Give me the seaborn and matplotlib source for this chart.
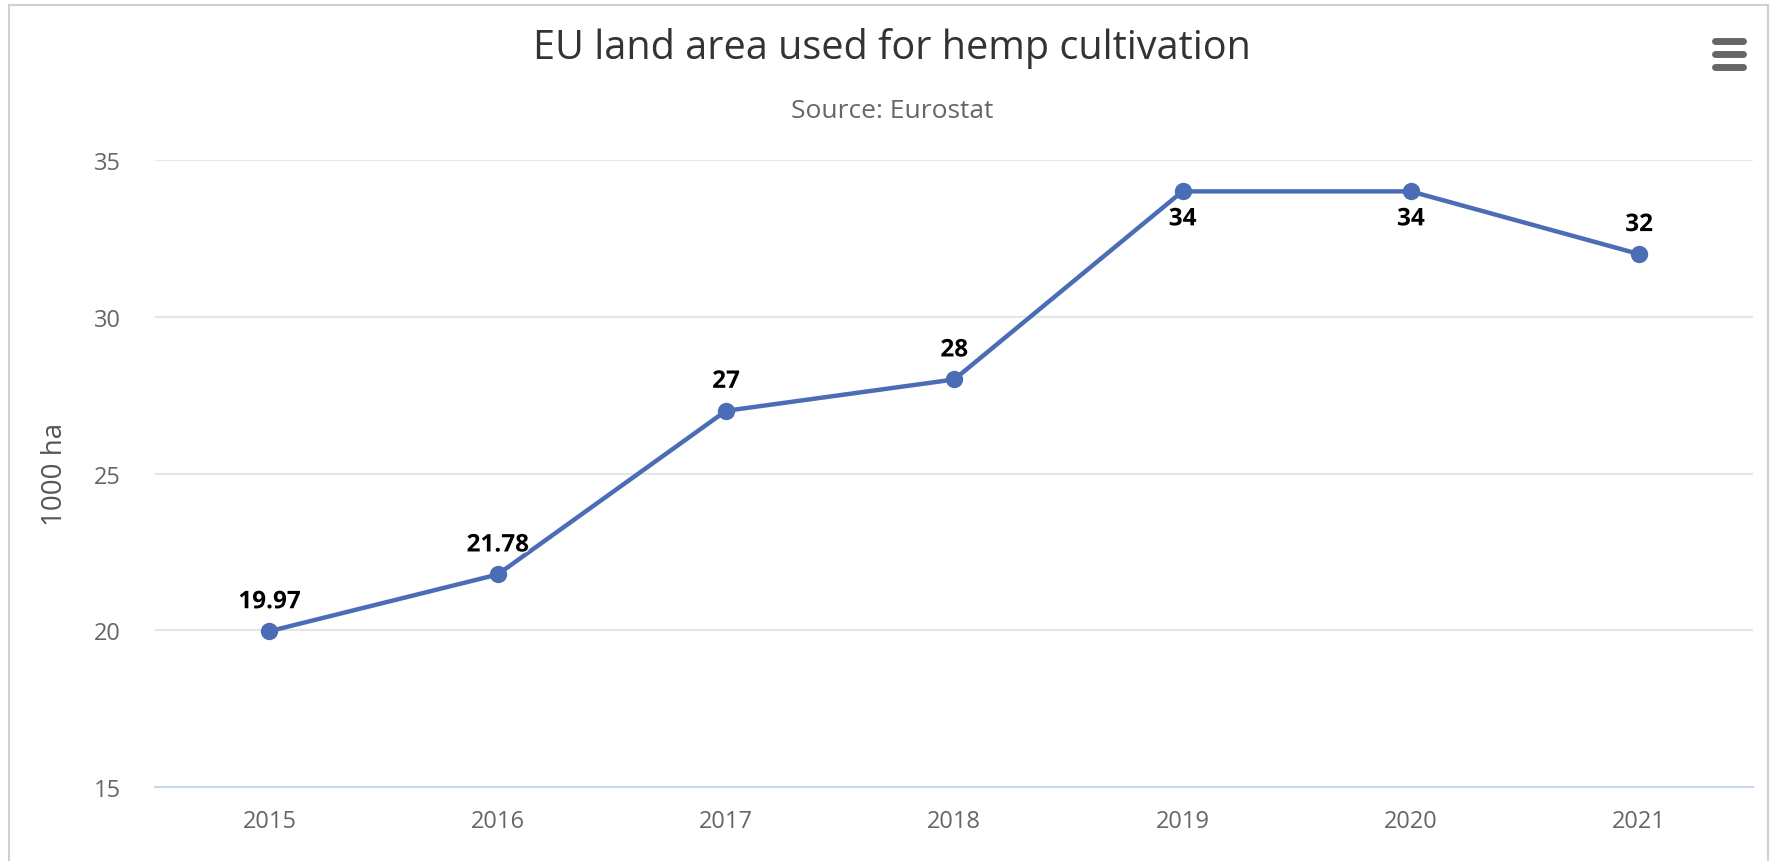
import matplotlib
matplotlib.use('Agg')
import matplotlib.pyplot as plt
import matplotlib.patches as mpatches
import matplotlib.lines as mlines
import matplotlib.patheffects as pe
import seaborn as sns
import pandas as pd

# chart data
years = ['2015', '2016', '2017', '2018', '2019', '2020', '2021']
area = [19.97, 21.78, 27, 28, 34, 34, 32]
labels = ['19.97', '21.78', '27', '28', '34', '34', '32']
label_below = [False, False, False, False, True, True, False]
y_ticks = [15, 20, 25, 30, 35]

df = pd.DataFrame({'Year': years, 'Area': area})

sns.set_style('white')
plt.rcParams['font.family'] = ['Open Sans', 'DejaVu Sans']

line_color = '#4a6db5'

fig = plt.figure(figsize=(17.77, 8.62), dpi=100)
ax = fig.add_axes([0.0874, 0.0858, 0.8992, 0.7274])

sns.lineplot(x='Year', y='Area', data=df, ax=ax, color=line_color, linewidth=3.2,
             marker='o', markersize=12.5, markeredgewidth=0, sort=False)

# data labels
for i, (v, t, below) in enumerate(zip(area, labels, label_below)):
    off = -28 if below else 29
    ax.annotate(t, (i, v), xytext=(0, off), textcoords='offset pixels',
                ha='center', va='center', fontsize=17.5, fontweight='bold', color='black',
                path_effects=[pe.withStroke(linewidth=2, foreground='white')])

ax.set_xlim(-0.5, len(years) - 0.5)
ax.set_ylim(15, 35)
ax.set_yticks(y_ticks)
ax.yaxis.grid(True, color='#e6e6e6', linewidth=1.5)
ax.xaxis.grid(False)
for s in ['top', 'right', 'left']:
    ax.spines[s].set_visible(False)
ax.spines['bottom'].set_color('#ccd6eb')
ax.spines['bottom'].set_linewidth(1.5)
ax.tick_params(axis='both', length=0, labelsize=17, colors='#666666')
ax.tick_params(axis='x', pad=16)
ax.tick_params(axis='y', pad=25)
ax.set_xlabel('')
ax.set_ylabel('1000 ha', fontsize=20, color='#555555', va='center')
ax.yaxis.set_label_coords(-0.063, 0.5)

fig.text(0.502, 0.944, 'EU land area used for hemp cultivation', ha='center', va='center',
         fontsize=28.5, color='#333333')
fig.text(0.502, 0.871, 'Source: Eurostat', ha='center', va='center',
         fontsize=19, color='#666666')

# outer frame
fig.add_artist(mpatches.Rectangle((0.005, -0.01), 0.990, 1.003, transform=fig.transFigure,
                                  fill=False, edgecolor='#d0d0d0', linewidth=1.5))

# menu icon
for yy in [0.951, 0.936, 0.921]:
    fig.add_artist(mlines.Line2D([0.9650, 0.9810], [yy, yy], transform=fig.transFigure,
                                 color='#666666', linewidth=5, solid_capstyle='round'))

fig.savefig('out.png', dpi=100)
